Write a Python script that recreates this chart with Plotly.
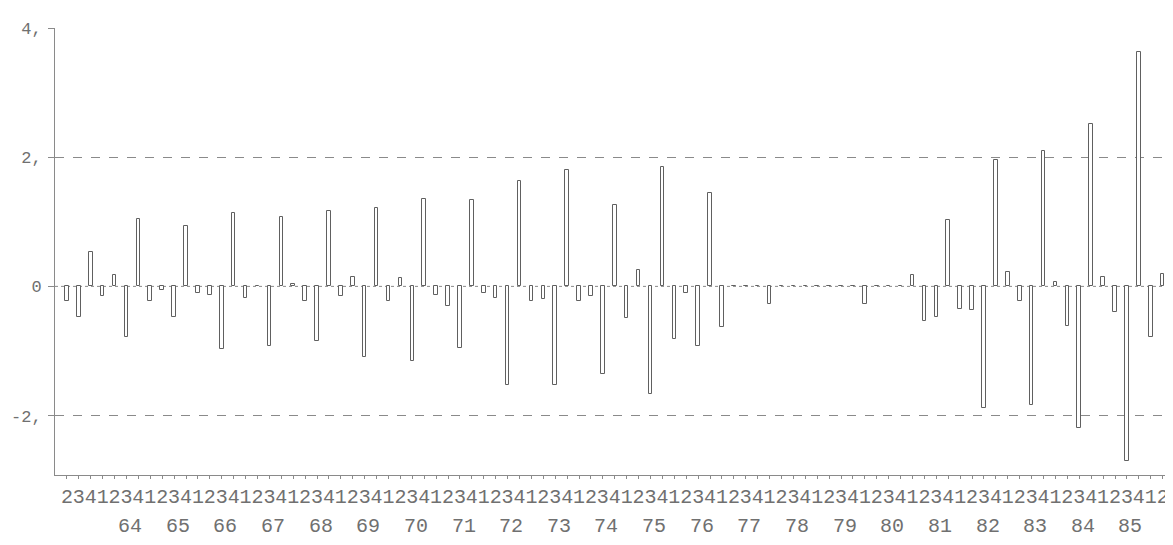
import plotly.graph_objects as go

# Quarterly series: 1963 Q2 ... 1986 Q2
quarter_labels = ["2", "3", "4"] + ["1", "2", "3", "4"] * 22 + ["1", "2"]
year_labels = ["64", "65", "66", "67", "68", "69", "70", "71", "72", "73", "74",
               "75", "76", "77", "78", "79", "80", "81", "82", "83", "84", "85"]

values = [
    -0.23, -0.48, 0.53,                      # 63 Q2-Q4
    -0.15, 0.17, -0.78, 1.05,                # 64
    -0.23, -0.05, -0.48, 0.93,               # 65
    -0.10, -0.13, -0.97, 1.14,               # 66
    -0.18, 0.00, -0.92, 1.08,                # 67
    0.04, -0.23, -0.85, 1.17,                # 68
    -0.15, 0.15, -1.10, 1.22,                # 69
    -0.22, 0.13, -1.15, 1.36,                # 70
    -0.14, -0.30, -0.95, 1.33,               # 71
    -0.10, -0.18, -1.53, 1.63,               # 72
    -0.23, -0.19, -1.53, 1.80,               # 73
    -0.23, -0.15, -1.36, 1.26,               # 74
    -0.49, 0.26, -1.67, 1.85,                # 75
    -0.82, -0.10, -0.92, 1.44,               # 76
    -0.63, 0.00, 0.00, 0.00,                 # 77
    -0.27, 0.00, 0.00, 0.00,                 # 78
    0.00, 0.00, 0.00, 0.00,                  # 79
    -0.27, 0.00, 0.00, 0.00,                 # 80
    0.18, -0.54, -0.48, 1.03,                # 81
    -0.35, -0.36, -1.88, 1.96,               # 82
    0.22, -0.22, -1.83, 2.09,                # 83
    0.07, -0.62, -2.19, 2.52,                # 84
    0.15, -0.40, -2.70, 3.63,                # 85
    -0.79, 0.19,                             # 86 Q1-Q2
]

y_tick_vals = [4, 2, 0, -2]
y_tick_text = ["4,", "2,", "0", "-2,"]

x_idx = list(range(len(values)))
year_pos = [3 + 4 * k + 2.3 for k in range(len(year_labels))]

ink = "#707070"
font_name = "Liberation Mono"

fig = go.Figure()
fig.add_trace(go.Bar(
    x=x_idx, y=values, width=0.3,
    marker=dict(color="white", line=dict(color="#606060", width=1)),
    showlegend=False, cliponaxis=False,
))

for xp, lab in zip(year_pos, year_labels):
    fig.add_annotation(x=xp, y=0, xref="x", yref="paper", text=lab,
                       showarrow=False, yanchor="top", xanchor="center",
                       yshift=-38,
                       font=dict(family=font_name, size=20, color=ink))

fig.add_shape(type="line", xref="paper", yref="y", x0=0, x1=1, y0=0, y1=0,
              line=dict(color="#8a8a8a", width=1, dash="dot"), layer="below")

# page body has an 8px default margin, so the figure is sized to fit inside it
fig.update_layout(
    width=1165, height=537,
    margin=dict(l=47, r=5, t=20, b=70, autoexpand=False),
    plot_bgcolor="white", paper_bgcolor="white",
    bargap=0,
    xaxis=dict(
        range=[-1.0, 92.45], automargin=False,
        tickmode="array", tickvals=x_idx, ticktext=quarter_labels,
        tickangle=0,
        tickfont=dict(family=font_name, size=20, color=ink),
        showgrid=False, zeroline=False,
        showline=True, linecolor="#8a8a8a", linewidth=1,
        ticks="outside", ticklen=3, tickcolor="#8a8a8a",
    ),
    yaxis=dict(
        range=[-2.92, 4.0], automargin=False,
        tickmode="array", tickvals=y_tick_vals, ticktext=y_tick_text,
        tickfont=dict(family=font_name, size=17, color=ink),
        showgrid=False, zeroline=False,
        showline=True, linecolor="#8a8a8a", linewidth=1,
        ticks="outside", ticklen=6, tickcolor="#8a8a8a",
        ticklabelstandoff=3,
        minor=dict(tickmode="array", tickvals=[2, -2], showgrid=True,
                   gridcolor="#8a8a8a", griddash="dash", gridwidth=1,
                   ticks=""),
    ),
)

fig.write_html("out.html")
